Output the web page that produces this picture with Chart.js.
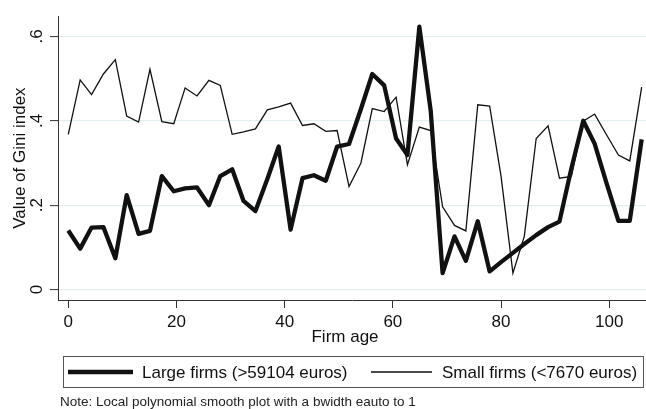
<!DOCTYPE html>
<html><head><meta charset="utf-8">
<script src="https://cdn.jsdelivr.net/npm/chart.js@4.4.0/dist/chart.umd.min.js"></script>
<style>html,body{margin:0;padding:0;background:#fff;}canvas{display:block;}</style>
</head><body>
<canvas id="c" width="646" height="409"></canvas>
<script>
// Grid of firm ages (lpoly evaluation points)
const firmAge = [0, 2.2, 4.3, 6.5, 8.7, 10.8, 13.0, 15.1, 17.3, 19.5, 21.6, 23.8, 26.0, 28.1, 30.3, 32.4, 34.6, 36.8, 38.9, 41.1,
  43.3, 45.4, 47.6, 49.7, 51.9, 54.1, 56.2, 58.4, 60.6, 62.7, 64.9, 67.0, 69.2, 71.4, 73.5, 75.7, 77.9, 80.0, 82.2, 84.3,
  86.5, 88.7, 90.8, 93.0, 95.2, 97.3, 99.5, 101.7, 103.8, 106.0];
const largeFirms = [0.140, 0.097, 0.147, 0.148, 0.074, 0.224, 0.132, 0.139, 0.269, 0.233, 0.240, 0.242, 0.200, 0.269, 0.285, 0.210, 0.186, 0.262, 0.339, 0.142,
  0.264, 0.271, 0.258, 0.339, 0.345, 0.428, 0.511, 0.484, 0.358, 0.319, 0.623, 0.424, 0.039, 0.126, 0.068, 0.162, 0.043, 0.065, 0.087, 0.108,
  0.129, 0.148, 0.161, 0.287, 0.400, 0.346, 0.252, 0.163, 0.163, 0.356];
const smallFirms = [0.368, 0.497, 0.462, 0.511, 0.545, 0.411, 0.397, 0.522, 0.398, 0.393, 0.478, 0.459, 0.496, 0.484, 0.368, 0.374, 0.381, 0.426, 0.433, 0.442,
  0.389, 0.393, 0.375, 0.377, 0.244, 0.300, 0.429, 0.422, 0.456, 0.296, 0.385, 0.377, 0.196, 0.152, 0.139, 0.438, 0.435, 0.269, 0.039, 0.126,
  0.358, 0.388, 0.264, 0.268, 0.399, 0.416, 0.367, 0.319, 0.305, 0.480];
const seriesLabels = ['Large firms (>59104 euros)', 'Small firms (<7670 euros)'];
const xTicks = [0, 20, 40, 60, 80, 100];
const xTickLabels = ['0', '20', '40', '60', '80', '100'];
const yTicks = [0, 0.2, 0.4, 0.6];
const yTickLabels = ['0', '.2', '.4', '.6'];
const xTitle = 'Firm age';
const yTitle = 'Value of Gini index';
const noteText = 'Note: Local polynomial smooth plot with a bwidth eauto to 1';

const FONT = '"Liberation Sans", Arial, sans-serif';
const TXT = '#111';

const toPts = arr => arr.map((v, i) => ({x: firmAge[i], y: v}));

const overlay = {
  id: 'overlay',
  afterDraw(chart) {
    const ctx = chart.ctx;
    ctx.save();
    ctx.fillStyle = TXT;
    ctx.font = '17px ' + FONT;
    ctx.textAlign = 'center';
    ctx.textBaseline = 'middle';
    ctx.fillText(xTitle, 345, 337);
    // legend box
    ctx.strokeStyle = '#555';
    ctx.lineWidth = 1;
    ctx.strokeRect(63.5, 356.5, 580, 31);
    const items = [{x0: 68, x1: 133, tx: 142}, {x0: 371, x1: 432, tx: 442}];
    chart.data.datasets.forEach((ds, i) => {
      const it = items[i];
      ctx.strokeStyle = ds.borderColor;
      ctx.lineWidth = ds.borderWidth;
      ctx.lineCap = 'butt';
      ctx.beginPath();
      ctx.moveTo(it.x0, 372);
      ctx.lineTo(it.x1, 372);
      ctx.stroke();
      ctx.fillStyle = TXT;
      ctx.textAlign = 'left';
      ctx.fillText(ds.label, it.tx, 373);
    });
    ctx.font = '13.5px ' + FONT;
    ctx.textAlign = 'left';
    ctx.fillStyle = '#222';
    ctx.fillText(noteText, 60, 402);
    ctx.restore();
  }
};

new Chart(document.getElementById('c'), {
  type: 'line',
  data: {
    datasets: [
      {label: seriesLabels[0], data: toPts(largeFirms), borderColor: '#111', borderWidth: 4.3,
       pointRadius: 0, tension: 0, fill: false, borderJoinStyle: 'round'},
      {label: seriesLabels[1], data: toPts(smallFirms), borderColor: '#111', borderWidth: 1.3,
       pointRadius: 0, tension: 0, fill: false, borderJoinStyle: 'miter'}
    ]
  },
  options: {
    responsive: false,
    animation: false,
    devicePixelRatio: 1,
    layout: {padding: {top: 10, left: 0, right: 0, bottom: 0}},
    plugins: {legend: {display: false}, tooltip: {enabled: false}, title: {display: false}},
    scales: {
      x: {
        type: 'linear', min: -1.9, max: 106.8,
        afterBuildTicks: s => { s.ticks = xTicks.map(v => ({value: v})); },
        afterFit: s => { s.height = 109; },
        grid: {drawOnChartArea: false, drawTicks: true, tickLength: 8, tickColor: '#333', tickWidth: 1},
        border: {display: true, color: '#333', width: 1},
        ticks: {autoSkip: false, maxRotation: 0, minRotation: 0, padding: 4, color: TXT,
          font: {family: FONT, size: 17},
          callback: (v) => xTickLabels[xTicks.indexOf(v)]}
      },
      y: {
        type: 'linear', min: -0.0248, max: 0.648,
        afterBuildTicks: s => { s.ticks = yTicks.map(v => ({value: v})); },
        afterFit: s => { s.width = 58; },
        grid: {color: '#e3eef0', lineWidth: 1.2, drawTicks: true, tickLength: 8, tickColor: '#333', tickWidth: 1},
        border: {display: true, color: '#333', width: 1},
        ticks: {autoSkip: false, minRotation: 90, maxRotation: 90, padding: 6, crossAlign: 'center', color: TXT,
          font: {family: FONT, size: 17},
          callback: (v) => yTickLabels[yTicks.indexOf(v)]},
        title: {display: true, text: yTitle, color: TXT, font: {family: FONT, size: 17}, padding: {top: 10, bottom: 0}}
      }
    }
  },
  plugins: [overlay]
});
</script>
</body></html>
